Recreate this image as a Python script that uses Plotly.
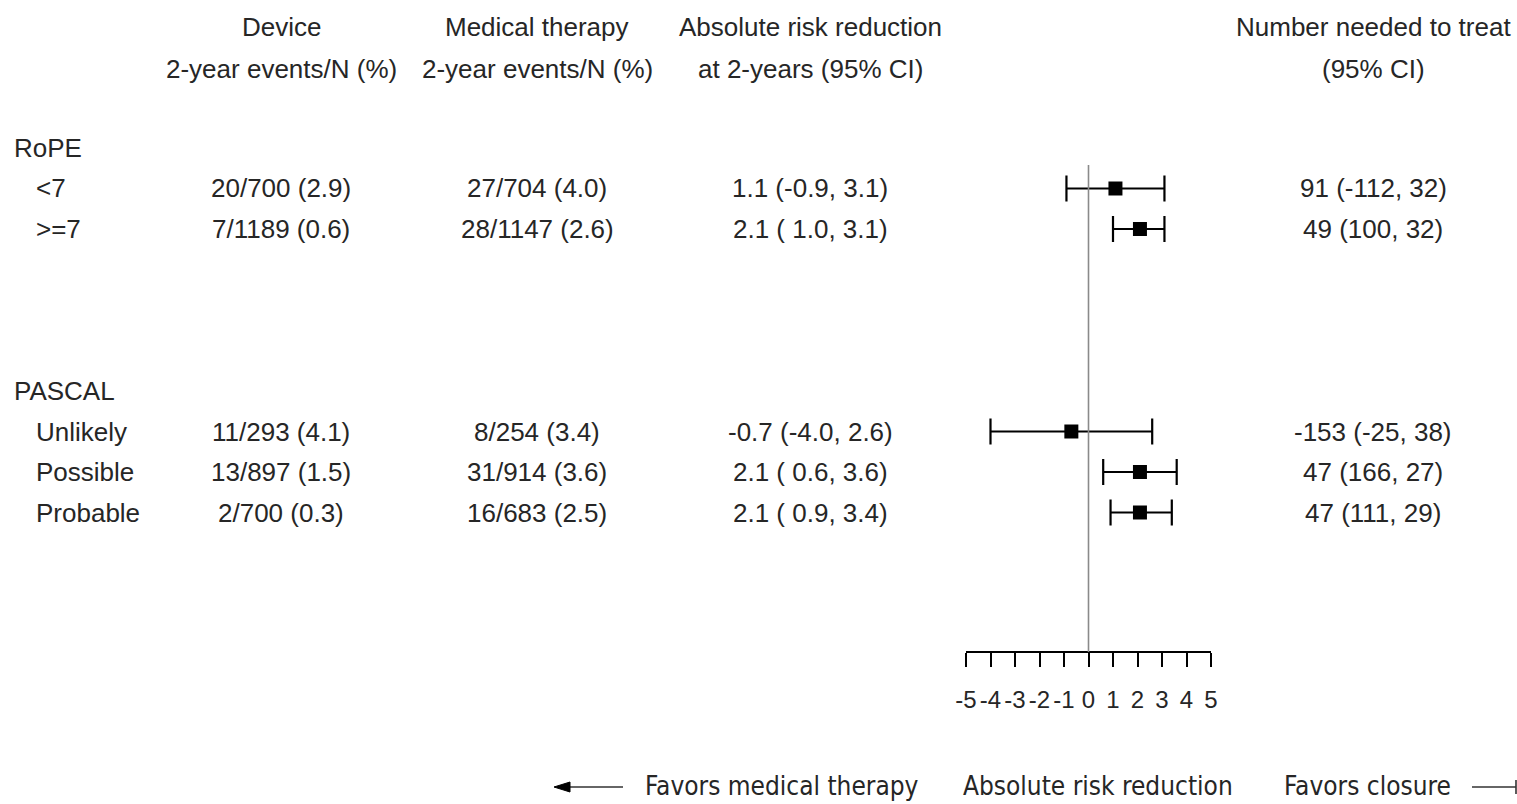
import plotly.graph_objects as go

W, H = 1517, 804

# ---- data ----
groups = ["RoPE", "PASCAL"]
subgroups = ["<7", ">=7", "Unlikely", "Possible", "Probable"]
subgroup_rows = [1, 2, 7, 8, 9]
group_rows = [0, 6]

device = ["20/700 (2.9)", "7/1189 (0.6)", "11/293 (4.1)", "13/897 (1.5)", "2/700 (0.3)"]
medical = ["27/704 (4.0)", "28/1147 (2.6)", "8/254 (3.4)", "31/914 (3.6)", "16/683 (2.5)"]
arr_est = [1.1, 2.1, -0.7, 2.1, 2.1]
arr_lo = [-0.9, 1.0, -4.0, 0.6, 0.9]
arr_hi = [3.1, 3.1, 2.6, 3.6, 3.4]
nnt = ["91 (-112, 32)", "49 (100, 32)", "-153 (-25, 38)", "47 (166, 27)", "47 (111, 29)"]

headers = [
    ("Device", "2-year events/N (%)"),
    ("Medical therapy", "2-year events/N (%)"),
    ("Absolute risk reduction", "at 2-years (95% CI)"),
    ("Number needed to treat", "(95% CI)"),
]
tick_vals = [-5, -4, -3, -2, -1, 0, 1, 2, 3, 4, 5]
tick_text = [str(v) for v in tick_vals]

# ---- layout helpers ----
ROW0, ROWH = 148.0, 40.5          # pixel centre of first row and row pitch


def px_x(p):
    return p / W


def px_y(p):
    return 1 - p / H


def fmt_ci(e, lo, hi):
    # positive lower bounds get a padding space, as in the printed table
    lo_s = f"{lo:.1f}" if lo < 0 else f" {lo:.1f}"
    return f"{e:.1f} ({lo_s}, {hi:.1f})"


TEXT = "#262626"
FONT = "Liberation Sans, Arial, sans-serif"
FS = 26

fig = go.Figure()

# forest plot marks
fig.add_trace(go.Scatter(
    x=arr_est,
    y=subgroup_rows,
    mode="markers",
    marker=dict(symbol="square", size=14, color="black"),
    error_x=dict(
        type="data",
        symmetric=False,
        array=[h - e for h, e in zip(arr_hi, arr_est)],
        arrayminus=[e - l for e, l in zip(arr_est, arr_lo)],
        color="black",
        thickness=2.2,
        width=13,
    ),
    xaxis="x2",
    yaxis="y",
    showlegend=False,
    hoverinfo="skip",
    cliponaxis=False,
))

ann = []
col_x = [281, 537, 810, 1373]

# column headers
for cx, (h1, h2) in zip(col_x, headers):
    ann.append(dict(x=px_x(cx), y=px_y(27), text=h1))
    ann.append(dict(x=px_x(cx), y=px_y(69), text=h2))

# group labels
for g, r in zip(groups, group_rows):
    ann.append(dict(x=px_x(12), y=px_y(ROW0 + ROWH * r), text=g, xanchor="left"))

# subgroup rows
for i, r in enumerate(subgroup_rows):
    yy = px_y(ROW0 + ROWH * r)
    ann.append(dict(x=px_x(34), y=yy, text=subgroups[i], xanchor="left"))
    ann.append(dict(x=px_x(col_x[0]), y=yy, text=device[i]))
    ann.append(dict(x=px_x(col_x[1]), y=yy, text=medical[i]))
    ann.append(dict(x=px_x(col_x[2]), y=yy, text=fmt_ci(arr_est[i], arr_lo[i], arr_hi[i])))
    ann.append(dict(x=px_x(col_x[3]), y=yy, text=nnt[i]))

for a in ann:
    a.setdefault("xanchor", "center")
    a.update(xref="paper", yref="paper", yanchor="middle", showarrow=False,
             font=dict(family=FONT, size=FS, color=TEXT))

# bottom direction captions
BY = 786
BFONT = "Liberation Sans Narrow, DejaVu Sans Condensed, sans-serif"
for txt, cx in [("Favors medical therapy", 782), ("Absolute risk reduction", 1098),
                ("Favors closure", 1367)]:
    ann.append(dict(x=px_x(cx), y=px_y(BY), text=txt, xref="paper", yref="paper",
                    xanchor="center", yanchor="middle", showarrow=False,
                    font=dict(family=BFONT, size=26, color=TEXT)))

shapes = []
# zero reference line
shapes.append(dict(type="line", xref="x2", yref="paper", x0=0, x1=0,
                   y0=px_y(165), y1=px_y(652), line=dict(color="#8a8a8a", width=1.6)))
# arrows under the axis
AY = px_y(BY + 1)
shapes.append(dict(type="line", xref="paper", yref="paper", x0=px_x(566), x1=px_x(623),
                   y0=AY, y1=AY, line=dict(color="#333", width=1.6)))
shapes.append(dict(type="path", xref="paper", yref="paper",
                   path=f"M {px_x(554)} {AY} L {px_x(570)} {px_y(BY - 4)} L {px_x(570)} {px_y(BY + 6)} Z",
                   fillcolor="black", line=dict(color="black", width=1)))
shapes.append(dict(type="line", xref="paper", yref="paper", x0=px_x(1472), x1=px_x(1516),
                   y0=AY, y1=AY, line=dict(color="#333", width=1.6)))
shapes.append(dict(type="line", xref="paper", yref="paper", x0=px_x(1516), x1=px_x(1516),
                   y0=px_y(BY - 6), y1=px_y(BY + 8), line=dict(color="#333", width=1.6)))

fig.update_layout(
    width=W, height=H,
    autosize=False,
    margin=dict(l=0, r=0, t=0, b=0, autoexpand=False),
    paper_bgcolor="white", plot_bgcolor="rgba(0,0,0,0)",
    xaxis=dict(visible=False, range=[0, 1], domain=[0, 1], automargin=False),
    xaxis2=dict(
        domain=[px_x(966), px_x(1211)],
        range=[-5, 5],
        anchor="free", position=px_y(652),
        automargin=False,
        showline=True, linecolor="black", linewidth=2,
        ticks="outside", tickvals=tick_vals, ticktext=tick_text, tickangle=0,
        ticklen=14, tickwidth=2, tickcolor="black",
        ticklabelstandoff=12,
        tickfont=dict(family=FONT, size=24, color=TEXT),
        showgrid=False, zeroline=False, fixedrange=True,
    ),
    yaxis=dict(visible=False, domain=[0, 1], automargin=False,
               range=[(H - ROW0) / ROWH, -ROW0 / ROWH], fixedrange=True),
    annotations=ann,
    shapes=shapes,
)

fig.write_html("out.html")
